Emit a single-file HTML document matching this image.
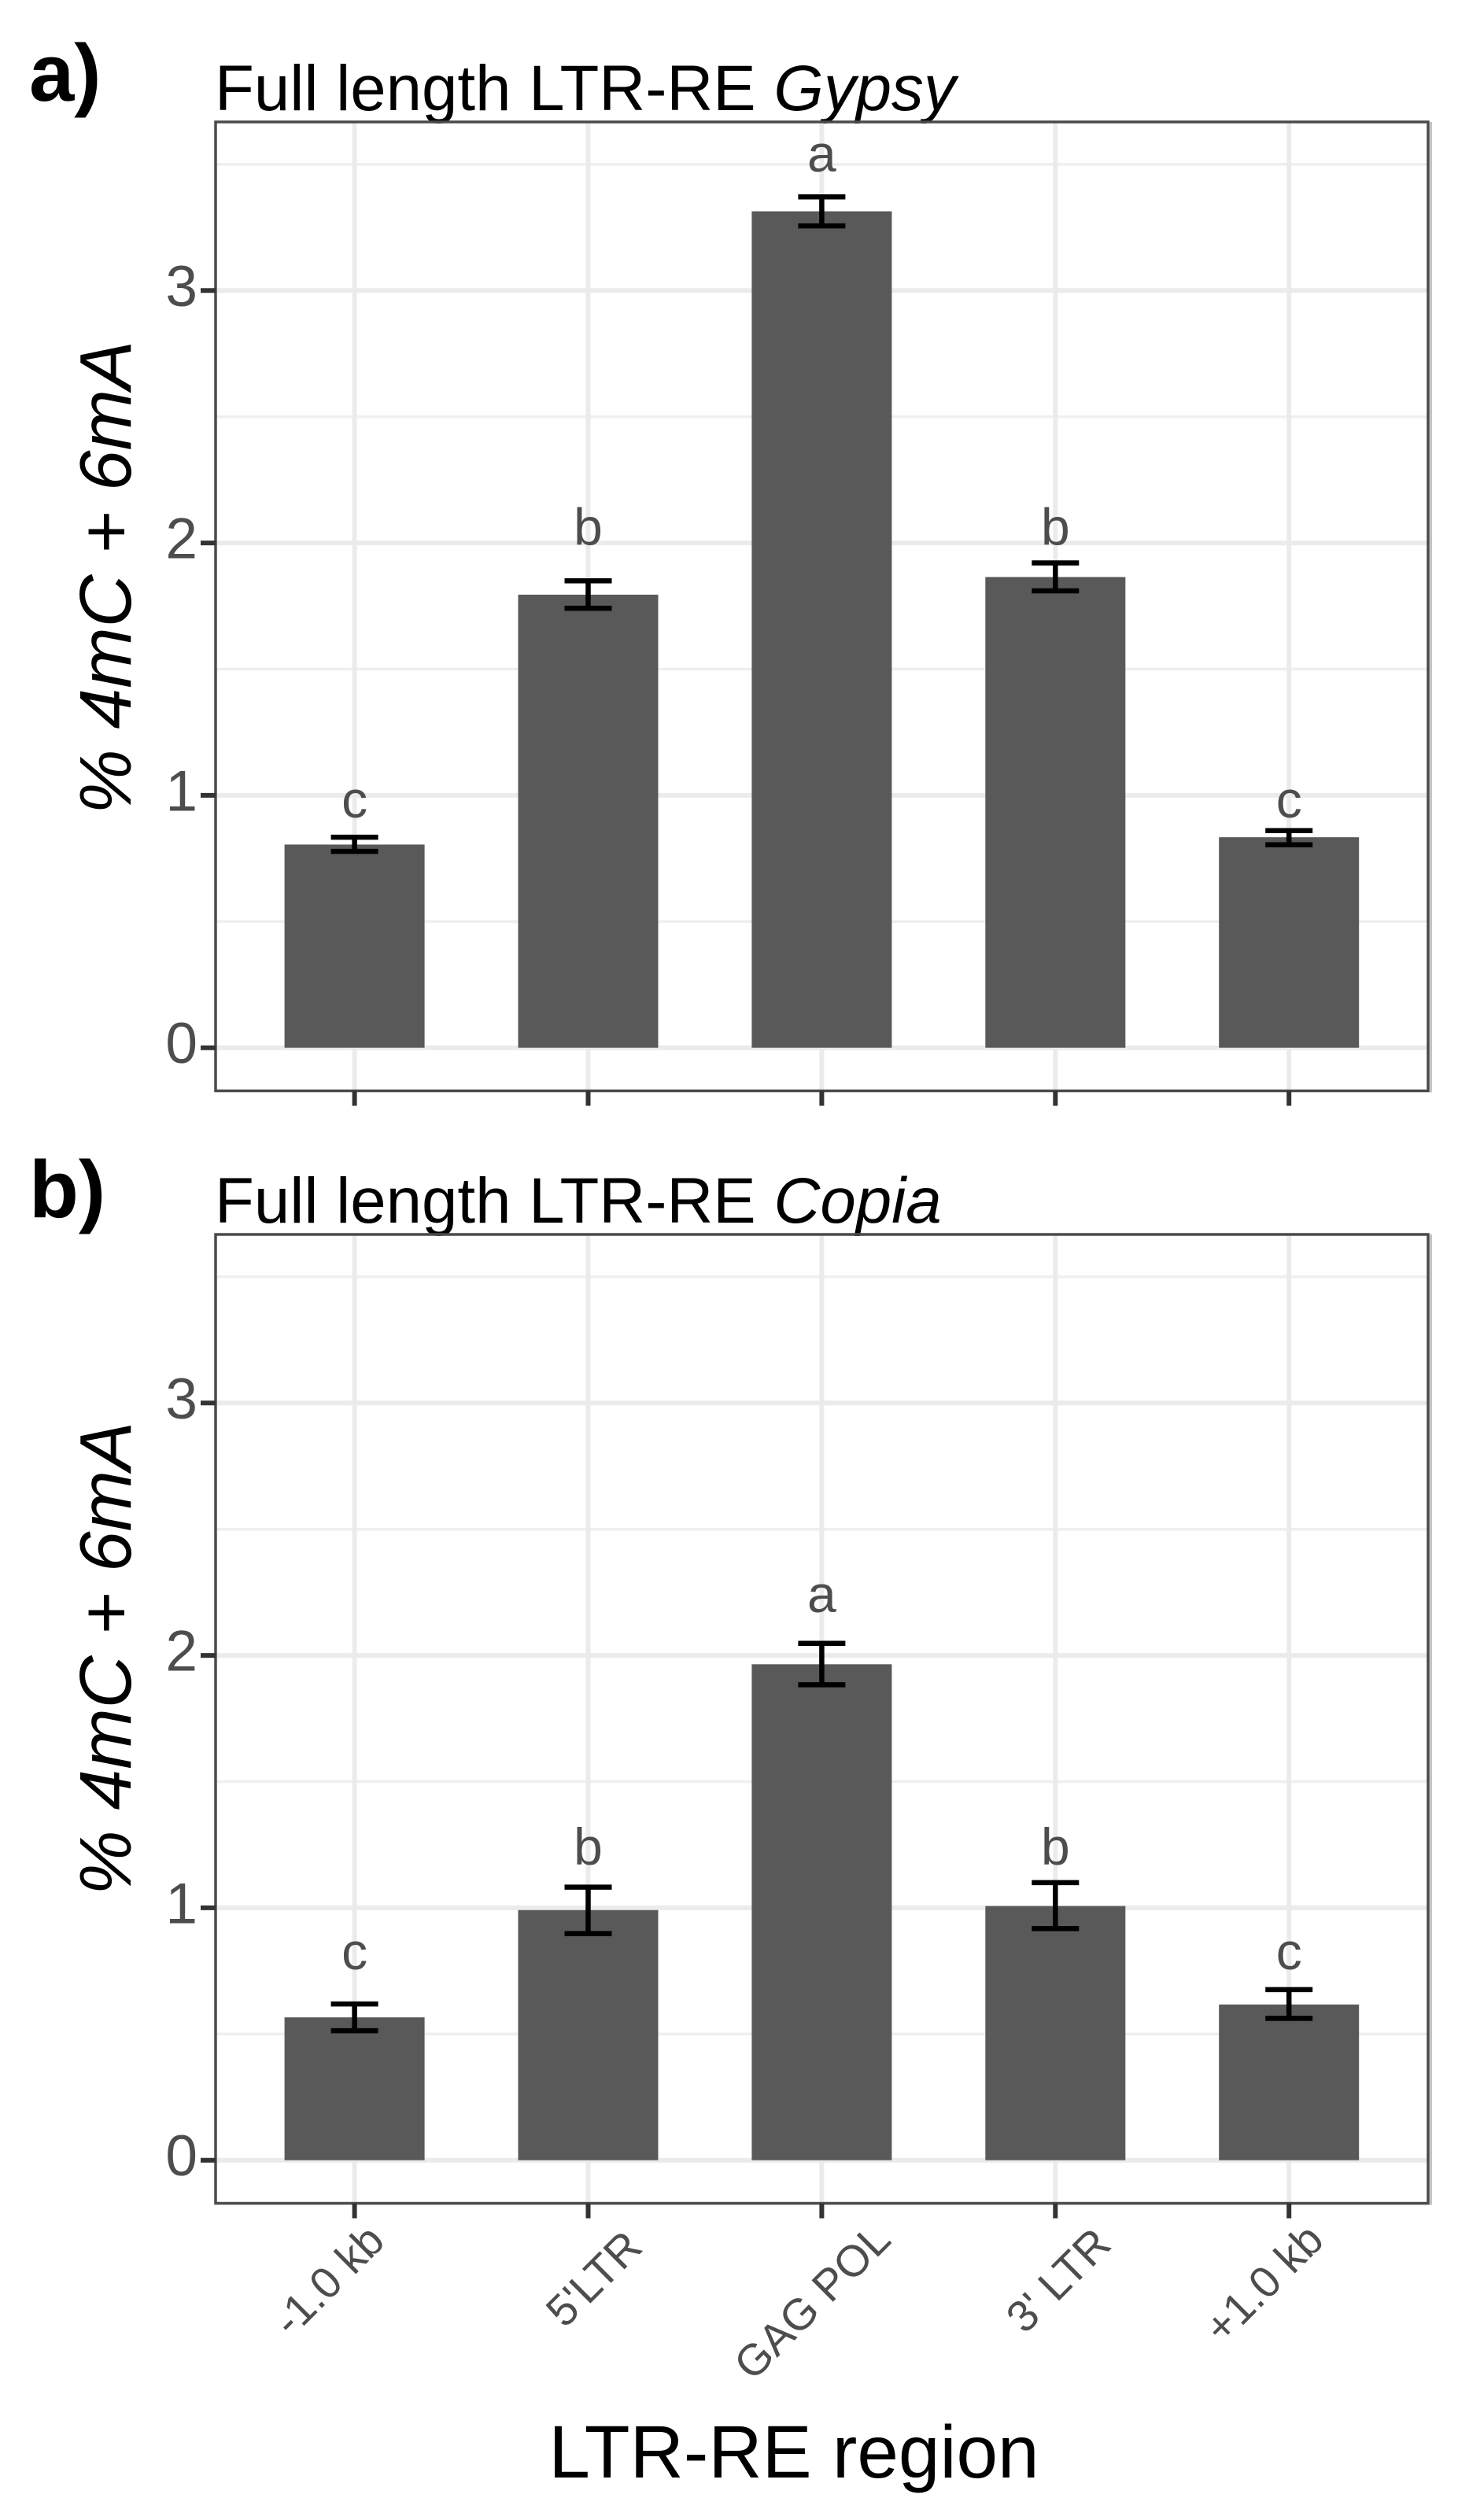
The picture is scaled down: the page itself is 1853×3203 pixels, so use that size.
<!DOCTYPE html>
<html lang="en">
<head>
<meta charset="utf-8">
<title>LTR-RE region methylation</title>
<style>
html,body{margin:0;padding:0;background:#fff;}
svg{display:block;}
text{font-family:"Liberation Sans",Arial,sans-serif;}
</style>
</head>
<body>
<svg id="figure" xmlns="http://www.w3.org/2000/svg" width="1853" height="3203" viewBox="0 0 1853 3203">
  <rect x="0" y="0" width="1853" height="3203" fill="#ffffff"/>
  <text x="37" y="128" font-size="103" font-weight="700" fill="#000">a)</text>
  <text x="37" y="1547" font-size="103" font-weight="700" fill="#000">b)</text>
  <text x="273" y="140" font-size="81.6" fill="#000">Full length LTR-RE <tspan font-style="italic">Gypsy</tspan></text>
  <text x="273" y="1554" font-size="81.6" fill="#000">Full length LTR-RE <tspan font-style="italic">Copia</tspan></text>
  <text transform="translate(166,734) rotate(-90)" text-anchor="middle" font-size="93" font-style="italic" fill="#000">% 4mC + 6mA</text>
  <text transform="translate(166,2108) rotate(-90)" text-anchor="middle" font-size="93" font-style="italic" fill="#000">% 4mC + 6mA</text>
  <text x="1009" y="3149" text-anchor="middle" font-size="94.5" fill="#000">LTR-RE region</text>
  <g id="panel-a"></g>
  <g id="panel-b"></g>
</svg>
<script>
const categories = ["-1.0 kb", "5'LTR", "GAG POL", "3' LTR", "+1.0 kb"];
const yTicks = [0, 1, 2, 3];
const yMinorTicks = [0.5, 1.5, 2.5, 3.5];

const gypsyMeans = [0.805, 1.795, 3.314, 1.865, 0.834];
const gypsyUpper = [0.834, 1.850, 3.371, 1.921, 0.860];
const gypsyLower = [0.778, 1.741, 3.256, 1.810, 0.804];
const gypsyLetters = ["c", "b", "a", "b", "c"];
const gypsyLetterHeights = [0.912, 1.993, 3.472, 1.993, 0.912];

const copiaMeans = [0.566, 0.991, 1.965, 1.007, 0.617];
const copiaUpper = [0.619, 1.082, 2.048, 1.100, 0.676];
const copiaLower = [0.513, 0.898, 1.884, 0.918, 0.562];
const copiaLetters = ["c", "b", "a", "b", "c"];
const copiaLetterHeights = [0.757, 1.171, 2.172, 1.171, 0.757];

const SVG_NS = "http://www.w3.org/2000/svg";
const plotLeft = 274;
const plotRight = 1815;
const plotHeight = 1231.5;
const unitHeight = 320.8;
const zeroOffset = 1176.7;
const firstCenter = 450.6;
const bandStep = 296.9;
const barWidth = 178;
const capWidth = 60;

function xScale(i) { return firstCenter + bandStep * i; }

function draw(tag, parent, attrs, text) {
  const el = document.createElementNS(SVG_NS, tag);
  for (const k in attrs) el.setAttribute(k, attrs[k]);
  if (text !== undefined) el.textContent = text;
  parent.appendChild(el);
  return el;
}

function renderPanel(group, top, means, upper, lower, letters, letterHeights, showLabels) {
  const bottom = top + plotHeight;
  const y0 = top + zeroOffset;
  const yScale = v => y0 - unitHeight * v;

  yMinorTicks.forEach(v => {
    const el = draw("line", group, {x1: plotLeft, x2: plotRight, y1: yScale(v), y2: yScale(v), stroke: "#efefef", "stroke-width": 3.5});
    
    
  });
  yTicks.forEach(v => {
    const el = draw("line", group, {x1: plotLeft, x2: plotRight, y1: yScale(v), y2: yScale(v), stroke: "#ebebeb", "stroke-width": 6});
    
    
  });
  categories.forEach((c, i) => {
    const el = draw("line", group, {x1: xScale(i), x2: xScale(i), y1: top, y2: bottom, stroke: "#ebebeb", "stroke-width": 6});
    
    
  });

  means.forEach((v, i) => {
    const bar = draw("rect", group, {x: xScale(i) - barWidth / 2, y: yScale(v), width: barWidth, height: y0 - yScale(v), fill: "#595959"});
    
    
  });

  means.forEach((v, i) => {
    const cx = xScale(i);
    const stem = draw("line", group, {x1: cx, x2: cx, y1: yScale(upper[i]), y2: yScale(lower[i]), stroke: "#000", "stroke-width": 6.5});
    
    
    const capTop = draw("line", group, {x1: cx - capWidth / 2, x2: cx + capWidth / 2, y1: yScale(upper[i]), y2: yScale(upper[i]), stroke: "#000", "stroke-width": 6.5});
    
    
    const capBottom = draw("line", group, {x1: cx - capWidth / 2, x2: cx + capWidth / 2, y1: yScale(lower[i]), y2: yScale(lower[i]), stroke: "#000", "stroke-width": 6.5});
    
    
    const letter = draw("text", group, {x: cx, y: yScale(letterHeights[i]), "text-anchor": "middle", "font-size": 66, fill: "#4d4d4d"}, letters[i]);
    
    
  });

  const border = draw("rect", group, {x: plotLeft, y: top, width: plotRight - plotLeft, height: plotHeight, fill: "none", stroke: "#4a4a4a", "stroke-width": 3.5});
  
  
  const edge = draw("rect", group, {x: plotRight + 2, y: top, width: 3, height: plotHeight + 2, fill: "#c4c4c4"});
  
  

  yTicks.forEach(v => {
    const tick = draw("line", group, {x1: plotLeft - 19, x2: plotLeft, y1: yScale(v), y2: yScale(v), stroke: "#333", "stroke-width": 6});
    
    
    const label = draw("text", group, {x: 251, y: yScale(v) + 19.5, "text-anchor": "end", "font-size": 73, fill: "#4d4d4d"}, String(v));
    
    
  });

  categories.forEach((c, i) => {
    const tick = draw("line", group, {x1: xScale(i), x2: xScale(i), y1: bottom, y2: bottom + 19, stroke: "#333", "stroke-width": 6});
    
    
  });

  if (showLabels) {
    categories.forEach((c, i) => {
      let dx = -34, dy = 97;
      if (i === 1) { dx = 6.5; dy = 95; }
      if (i === 2) { dx = -13; dy = 124; }
      if (i === 3) { dx = 3; dy = 97; }
      if (i === 4) { dx = -33; dy = 101; }
      const label = draw("text", group, {
        transform: "translate(" + (xScale(i) + dx) + "," + (bottom + dy) + ") rotate(-45)",
        dy: "0.36em", "text-anchor": "middle", "font-size": 56, fill: "#4d4d4d"
      }, c);
      
      
    });
  }
}

renderPanel(document.getElementById("panel-a"), 155, gypsyMeans, gypsyUpper, gypsyLower, gypsyLetters, gypsyLetterHeights, false);
renderPanel(document.getElementById("panel-b"), 1569, copiaMeans, copiaUpper, copiaLower, copiaLetters, copiaLetterHeights, true);
</script>
</body>
</html>
